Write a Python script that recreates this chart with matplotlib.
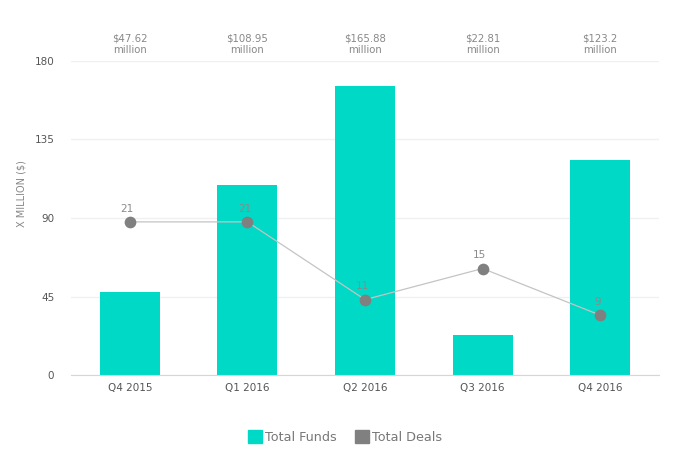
import matplotlib.pyplot as plt
from matplotlib.patches import Patch

# data
quarters = ['Q4 2015', 'Q1 2016', 'Q2 2016', 'Q3 2016', 'Q4 2016']
total_funds = [47.62, 108.95, 165.88, 22.81, 123.2]
fund_labels = ['$47.62\nmillion', '$108.95\nmillion', '$165.88\nmillion',
               '$22.81\nmillion', '$123.2\nmillion']
total_deals = [21, 21, 11, 15, 9]

bar_color = '#00D9C5'
deal_color = '#808080'
text_gray = '#888888'

fig = plt.figure(figsize=(6.79, 4.62), dpi=100)
ax = fig.add_axes([0.1046, 0.1883, 0.866, 0.6797])

x = list(range(len(quarters)))
ax.bar(x, total_funds, width=0.51, color=bar_color, zorder=2)

ax.set_xlim(-0.5, 4.5)
ax.set_ylim(0, 180)
ax.set_yticks([0, 45, 90, 135, 180])
ax.set_xticks(x)
ax.set_xticklabels(quarters)
ax.tick_params(axis='both', length=0, labelsize=7.5, colors='#555555')
ax.tick_params(axis='x', pad=6)
ax.tick_params(axis='y', pad=12)
ax.grid(True, axis='y', color='#F0F0F0', linewidth=1, zorder=0)
for s in ['top', 'right', 'left']:
    ax.spines[s].set_visible(False)
ax.spines['bottom'].set_color('#D6D6D6')
ax.set_axisbelow(True)

# funding labels above the plot area
for i, lbl in enumerate(fund_labels):
    ax.annotate(lbl, xy=(i, 1.0), xycoords=('data', 'axes fraction'),
                xytext=(0, 4), textcoords='offset points',
                ha='center', va='bottom', fontsize=7.3, color=text_gray,
                linespacing=1.25)

# deals on a hidden secondary axis
ax2 = ax.twinx()
ax2.plot(x, total_deals, color='#C4C4C4', linewidth=0.9, zorder=3)
ax2.scatter(x, total_deals, s=55, color=deal_color, zorder=4)
for i, d in enumerate(total_deals):
    ax2.annotate(str(d), xy=(i, d), xytext=(-2, 6), textcoords='offset points',
                 ha='center', va='bottom', fontsize=7.5, color='#8A8A8A')
ax2.set_ylim(1.3, 41.7)
ax2.set_yticks([])
for s in ax2.spines.values():
    s.set_visible(False)

fig.text(0.032, 0.58, 'X MILLION ($)', rotation=90, ha='center', va='center',
         fontsize=7, color=text_gray)

handles = [Patch(color=bar_color, label='Total Funds'),
           Patch(color=deal_color, label='Total Deals')]
fig.legend(handles=handles, loc='center', bbox_to_anchor=(0.508, 0.054),
           ncol=2, frameon=False, fontsize=9.2, handlelength=1.1,
           handleheight=1.1, handletextpad=0.25, columnspacing=1.4,
           labelcolor='#777777')

fig.savefig('out.png', dpi=100)
